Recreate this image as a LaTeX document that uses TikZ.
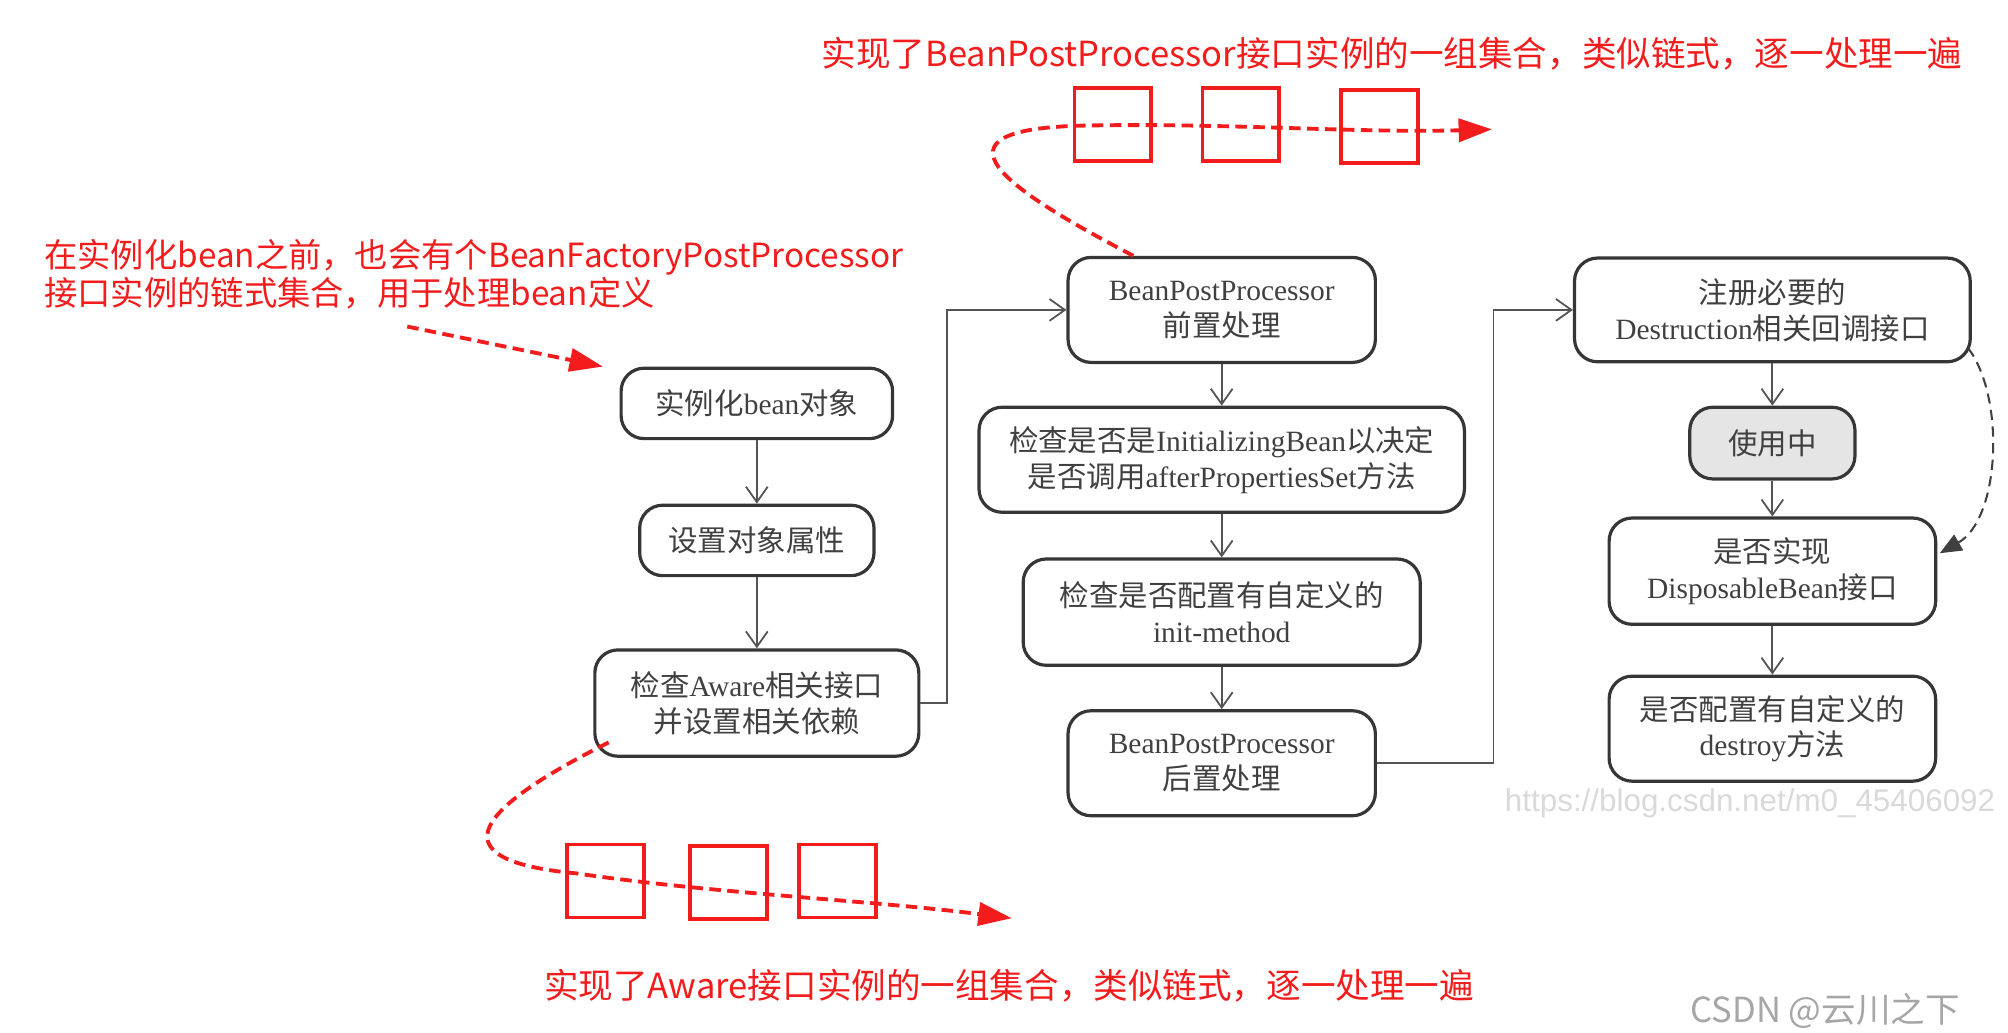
\documentclass[tikz,border=0pt]{standalone}
\usepackage{fontspec}
\setmainfont{Liberation Serif}
\newfontfamily\cjk{Noto Sans CJK SC}
\newfontfamily\wmfont{Liberation Sans}
\usepackage{tikz}
\usetikzlibrary{arrows.meta}
\definecolor{boxline}{HTML}{363636}
\definecolor{boxtext}{HTML}{404040}
\definecolor{notered}{HTML}{F21C1C}
\newcommand{\en}[1]{{\rmfamily #1}}

\begin{document}
\begin{tikzpicture}[x=1pt, y=-1pt, ->, >={Straight Barb[length=12pt,width=17pt]}, life step/.style={draw=boxline, line width=2.5pt, rounded corners=18pt, text=boxtext, align=center, inner sep=0pt, font=\cjk\fontsize{23}{28}\selectfont}, gray step/.style={life step, fill=gray!20}, flow/.style={draw=boxline!85, line width=1.4pt}, red note/.style={text=notered, align=left, inner sep=0pt, font=\cjk\fontsize{27}{28}\selectfont}, chain box/.style={draw=notered, line width=3pt, minimum width=60pt, minimum height=57pt, inner sep=0pt}, red link/.style={draw=notered, line width=3pt, dash pattern=on 9pt off 5pt, -{Triangle[length=26pt,width=18pt]}}, back link/.style={draw=black!75, line width=1.6pt, dash pattern=on 8pt off 5pt, -{Triangle[length=17pt,width=14pt]}}, wm text/.style={inner sep=0pt, font=\wmfont\fontsize{24.5}{27}\selectfont}]

\useasboundingbox (0,0) rectangle (1568,806);

% left column
\node[life step, minimum width=212pt, minimum height=55pt] (L1) at (591,315) {实例化\en{bean}对象};
\node[life step, minimum width=183pt, minimum height=55pt] (L2) at (591,422) {设置对象属性};
\node[life step, minimum width=253pt, minimum height=83pt] (L3) at (591,549) {检查\en{Aware}相关接口\\并设置相关依赖};

% middle column
\node[life step, minimum width=240pt, minimum height=82pt] (M1) at (954,242) {\en{BeanPostProcessor}\\前置处理};
\node[life step, minimum width=379pt, minimum height=82pt] (M2) at (954,359) {检查是否是\en{InitializingBean}以决定\\是否调用\en{afterPropertiesSet}方法};
\node[life step, minimum width=310pt, minimum height=83pt] (M3) at (954,478) {检查是否配置有自定义的\\\en{init-method}};
\node[life step, minimum width=240pt, minimum height=82pt] (M4) at (954,596) {\en{BeanPostProcessor}\\后置处理};

% right column
\node[life step, minimum width=309pt, minimum height=81pt] (D1) at (1384,242) {注册必要的\\\en{Destruction}相关回调接口};
\node[gray step, minimum width=129pt, minimum height=56pt] (D2) at (1384,346) {使用中};
\node[life step, minimum width=255pt, minimum height=83pt] (D3) at (1384,446) {是否实现\\\en{DisposableBean}接口};
\node[life step, minimum width=255pt, minimum height=82pt] (D4) at (1384,569) {是否配置有自定义的\\\en{destroy}方法};

\foreach \from/\to in {L1/L2, L2/L3, M1/M2, M2/M3, M3/M4, D1/D2, D2/D3, D3/D4}
    \draw[flow] (\from) -- (\to);
\draw[flow] (L3.east) -- ++(21,0) |- (M1.west);
\draw[flow] (M4.east) -- ++(91,0) |- (D1.west);
\draw[back link] ([shift={(-3,-12)}]D1.south east) .. controls (1566,310) and (1562,405) .. ([shift={(2,-14)}]D3.east);

% red notes
\node[red note] (N1) at (1087,42) {实现了BeanPostProcessor接口实例的一组集合，类似链式，逐一处理一遍};
\node[red note, font=\cjk\fontsize{26}{28}\selectfont] (N2) at (370,214) {在实例化bean之前，也会有个BeanFactoryPostProcessor\\接口实例的链式集合，用于处理bean定义};
\node[red note] (N3) at (788,770) {实现了Aware接口实例的一组集合，类似链式，逐一处理一遍};

\node[chain box] (C1) at (869,97) {};
\node[chain box] (C2) at (969,97) {};
\node[chain box] (C3) at (1077,99) {};
\node[chain box] (C4) at (473,688) {};
\node[chain box] (C5) at (569,689) {};
\node[chain box] (C6) at (654,688) {};

\coordinate (F0) at (318,255);
\coordinate (T0) at (1165,101);
\coordinate (B0) at (790,717);
\draw[red link] (F0) -- ([xshift=-13pt]L1.north west);
\draw[red link] ([xshift=-69pt]M1.north) .. controls (790,150) and (712,100) .. (850,98) .. controls (960,96) and (1060,104) .. (T0);
\draw[red link] ([shift={(12,-12)}]L3.south west) .. controls (395,620) and (322,670) .. (450,682) .. controls (560,698) and (680,703) .. (B0);

% watermarks
\node[wm text, text=gray!30, anchor=west] (W1) at (1175,627) {https://blog.csdn.net/m0\_45406092};
\node[wm text, text=gray!70, anchor=west, font=\cjk\fontsize{27}{30}\selectfont] (W2) at (1320,789) {CSDN @云川之下};
\end{tikzpicture}
\end{document}
